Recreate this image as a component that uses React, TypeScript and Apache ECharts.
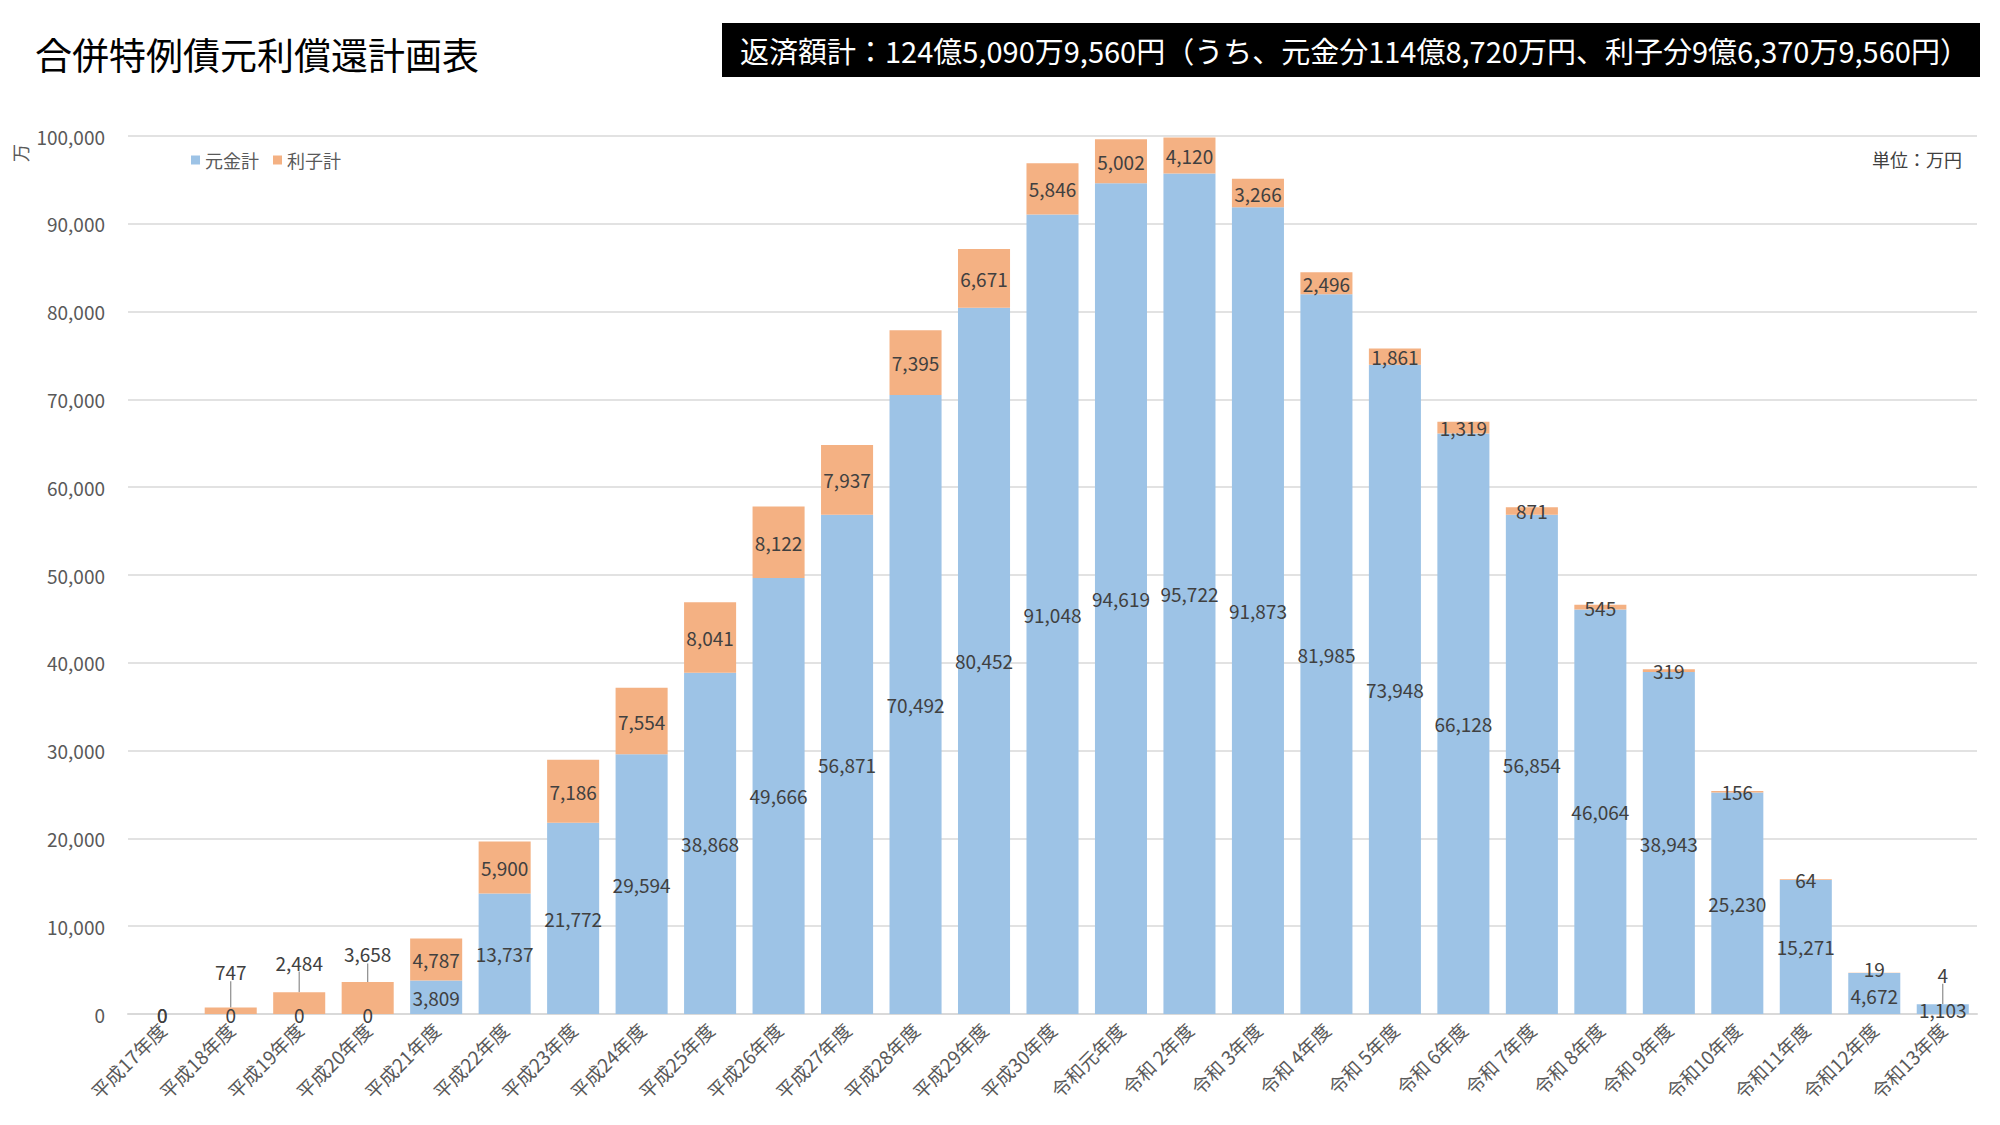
import React, { useEffect, useRef } from "react";
import * as echarts from "echarts";

// 年度 categories
const years = [
  "平成17年度", "平成18年度", "平成19年度", "平成20年度", "平成21年度",
  "平成22年度", "平成23年度", "平成24年度", "平成25年度", "平成26年度",
  "平成27年度", "平成28年度", "平成29年度", "平成30年度", "令和元年度",
  "令和 2年度", "令和 3年度", "令和 4年度", "令和 5年度", "令和 6年度",
  "令和 7年度", "令和 8年度", "令和 9年度", "令和10年度", "令和11年度",
  "令和12年度", "令和13年度",
];

// 元金計 (万円)
const principal = [
  0, 0, 0, 0, 3809, 13737, 21772, 29594, 38868, 49666, 56871, 70492, 80452,
  91048, 94619, 95722, 91873, 81985, 73948, 66128, 56854, 46064, 38943, 25230,
  15271, 4672, 1103,
];

// 利子計 (万円)
const interest = [
  0, 747, 2484, 3658, 4787, 5900, 7186, 7554, 8041, 8122, 7937, 7395, 6671,
  5846, 5002, 4120, 3266, 2496, 1861, 1319, 871, 545, 319, 156, 64, 19, 4,
];

const seriesNames = ["元金計", "利子計"];
const yTicks = { min: 0, max: 100000, interval: 10000 };

const FONT = '"Noto Sans CJK JP", "Noto Sans", sans-serif';
const BLUE = "#9DC3E6";
const ORANGE = "#F4B183";
const AXIS_TEXT = "#595959";
const LABEL_TEXT = "#404040";

// interest labels lifted above their small bars, joined by a guide line (px shift)
const liftedLabels: Record<number, number> = { 1: -39, 2: -41, 3: -44, 26: -30 };
// interest labels nudged slightly upward, no guide line (px shift)
const nudgedLabels: Record<number, number> = { 25: -4 };

const fmt = (v: number) => v.toLocaleString("en-US");

export default function App() {
  const ref = useRef<HTMLDivElement>(null);

  useEffect(() => {
    document.body.style.margin = "0";
    if (!ref.current) return;
    const chart = echarts.init(ref.current, null, { renderer: "svg" });

    const interestData = interest.map((v, i) =>
      liftedLabels[i] !== undefined
        ? {
            value: v,
            labelLine: {
              show: true,
              lineStyle: { color: "#8c8c8c", width: 1.2 },
            },
          }
        : v
    );

    chart.setOption({
      animation: false,
      backgroundColor: "#ffffff",
      textStyle: { fontFamily: FONT },
      title: {
        text: "合併特例債元利償還計画表",
        left: 30,
        top: 30,
        textStyle: {
          fontFamily: FONT,
          fontSize: 37,
          fontWeight: "normal",
          color: "#000000",
        },
      },
      legend: {
        data: seriesNames,
        left: 186,
        top: 146,
        icon: "rect",
        itemWidth: 9,
        itemHeight: 9,
        itemGap: 14,
        textStyle: { fontFamily: FONT, fontSize: 18, color: AXIS_TEXT },
      },
      grid: { left: 128, right: 23, top: 136, bottom: 111, containLabel: false },
      xAxis: {
        type: "category",
        data: years,
        axisTick: { show: false },
        axisLine: { lineStyle: { color: "#D9D9D9", width: 2 } },
        axisLabel: {
          interval: 0,
          rotate: 45,
          margin: 12,
          fontFamily: FONT,
          fontSize: 19,
          color: AXIS_TEXT,
        },
      },
      yAxis: {
        type: "value",
        min: yTicks.min,
        max: yTicks.max,
        interval: yTicks.interval,
        axisLine: { show: false },
        axisTick: { show: false },
        splitLine: { lineStyle: { color: "#D9D9D9", width: 1.5 } },
        axisLabel: {
          margin: 23,
          fontFamily: FONT,
          fontSize: 19,
          color: AXIS_TEXT,
          formatter: (v: number) => fmt(v),
        },
      },
      series: [
        {
          name: seriesNames[0],
          type: "bar",
          stack: "total",
          barCategoryGap: "24%",
          itemStyle: { color: BLUE },
          label: {
            show: true,
            position: "inside",
            fontFamily: FONT,
            fontSize: 19,
            color: LABEL_TEXT,
            formatter: (p: any) => fmt(p.value),
          },
          labelLayout: (p: any) => (p.dataIndex === 25 ? { dy: 2 } : {}),
          data: principal,
        },
        {
          name: seriesNames[1],
          type: "bar",
          stack: "total",
          barCategoryGap: "24%",
          itemStyle: { color: ORANGE },
          label: {
            show: true,
            position: "inside",
            fontFamily: FONT,
            fontSize: 19,
            color: LABEL_TEXT,
            formatter: (p: any) => fmt(p.value),
          },
          labelLayout: (p: any) => {
            if (liftedLabels[p.dataIndex] !== undefined) return { dy: liftedLabels[p.dataIndex] };
            if (nudgedLabels[p.dataIndex] !== undefined) return { dy: nudgedLabels[p.dataIndex] };
            return {};
          },
          data: interestData,
        },
      ],
      graphic: [
        {
          type: "rect",
          shape: { x: 722, y: 23, width: 1258, height: 54 },
          style: { fill: "#000000" },
        },
        {
          type: "text",
          x: 740,
          y: 50,
          style: {
            text: "返済額計：124億5,090万9,560円（うち、元金分114億8,720万円、利子分9億6,370万9,560円）",
            fill: "#ffffff",
            fontFamily: FONT,
            fontSize: 29,
            verticalAlign: "middle",
            align: "left",
          },
        },
        {
          type: "text",
          x: 1962,
          y: 159,
          style: {
            text: "単位：万円",
            fill: LABEL_TEXT,
            fontFamily: FONT,
            fontSize: 18,
            align: "right",
            verticalAlign: "middle",
          },
        },
        {
          type: "text",
          x: 20,
          y: 153,
          rotation: Math.PI / 2,
          style: {
            text: "万",
            fill: AXIS_TEXT,
            fontFamily: FONT,
            fontSize: 18,
            align: "center",
            verticalAlign: "middle",
          },
        },
      ],
    });

    return () => chart.dispose();
  }, []);

  return <div ref={ref} style={{ width: 2000, height: 1125 }} />;
}
